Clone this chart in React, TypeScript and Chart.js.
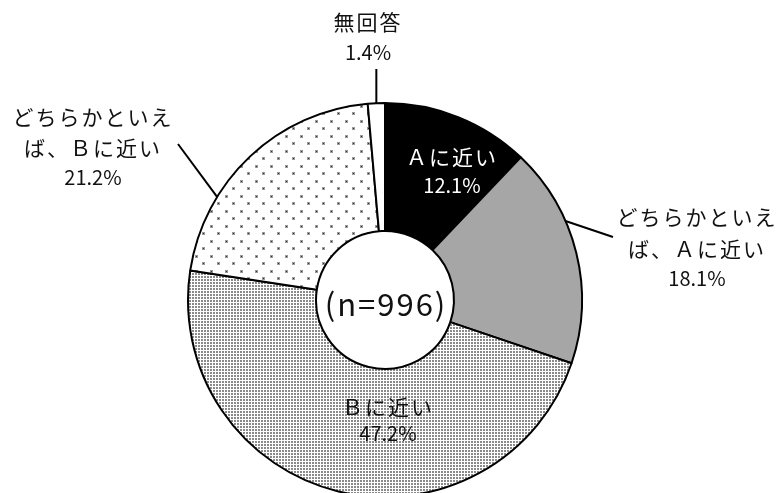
import React, { useEffect, useRef } from "react";
import { Chart, registerables } from "chart.js";

Chart.register(...registerables);

const categories = ["Ａに近い", "どちらかといえば、Ａに近い", "Ｂに近い", "どちらかといえば、Ｂに近い", "無回答"];
const values = [12.1, 18.1, 47.2, 21.2, 1.4];
const labelLines = [["Ａに近い"], ["どちらかといえ", "ば、Ａに近い"], ["Ｂに近い"], ["どちらかといえ", "ば、Ｂに近い"], ["無回答"]];
const centerText = "(n=996)";

const FONT = '"Noto Sans CJK JP", "Noto Sans", sans-serif';

function makePattern(kind: string): CanvasPattern | string {
  const c = document.createElement("canvas");
  const ctx = c.getContext("2d")!;
  if (kind === "dense") {
    c.width = 3; c.height = 3;
    ctx.fillStyle = "#ffffff";
    ctx.fillRect(0, 0, 3, 3);
    ctx.fillStyle = "#8a8a8a";
    ctx.fillRect(0, 0, 2, 2);
  } else {
    c.width = 15; c.height = 15;
    ctx.fillStyle = "#ffffff";
    ctx.fillRect(0, 0, 15, 15);
    ctx.fillStyle = "#9a9a9a";
    ctx.fillRect(0, 0, 3, 3);
    ctx.fillRect(7, 7, 3, 3);
    ctx.fillStyle = "#333333";
    ctx.fillRect(1, 1, 1, 1);
    ctx.fillRect(8, 8, 1, 1);
  }
  const p = ctx.createPattern(c, "repeat");
  return p || "#ccc";
}

// label layout (offsets from chart centre)
type LabelStyle = {
  inner: boolean;
  color: string;
  x: number;
  ys: number[];
  line?: { frac: number; ex: number; ey: number; vertical?: boolean };
};
const labelStyles: LabelStyle[] = [
  { inner: true, color: "#ffffff", x: 67, ys: [-143, -115] },
  { inner: false, color: "#111", x: 312, ys: [-83, -51, -22], line: { frac: 0.35, ex: 228, ey: -63 } },
  { inner: true, color: "#111", x: 3, ys: [107, 133] },
  { inner: false, color: "#111", x: -292, ys: [-183, -152, -123], line: { frac: 0.3, ex: -207, ey: -156 } },
  { inner: false, color: "#111", x: -17, ys: [-278, -248], line: { frac: 0.5, ex: 0, ey: -231, vertical: true } },
];

const labelPlugin = {
  id: "customLabels",
  afterDraw(chart: any) {
    const ctx = chart.ctx as CanvasRenderingContext2D;
    const meta = chart.getDatasetMeta(0);
    const first = meta.data[0];
    const cx = first.x, cy = first.y;
    ctx.save();
    ctx.textAlign = "center";
    ctx.textBaseline = "middle";
    meta.data.forEach((arc: any, i: number) => {
      const st = labelStyles[i];
      const lines = [...labelLines[i], values[i].toFixed(1) + "%"];
      if (st.line) {
        const a = arc.startAngle + (arc.endAngle - arc.startAngle) * st.line.frac;
        const ax = cx + Math.cos(a) * arc.outerRadius;
        const ay = cy + Math.sin(a) * arc.outerRadius;
        const ex = st.line.vertical ? ax : cx + st.line.ex;
        const ey = cy + st.line.ey;
        ctx.strokeStyle = "#000";
        ctx.lineWidth = 2;
        ctx.beginPath();
        ctx.moveTo(ax, ay);
        ctx.lineTo(ex, ey);
        ctx.stroke();
      }
      ctx.fillStyle = st.color;
      lines.forEach((t, j) => {
        const isPct = j === lines.length - 1;
        ctx.font = (isPct ? "20px " : "21px ") + FONT;
        (ctx as any).letterSpacing = isPct ? "0px" : "2px";
        ctx.fillText(t, cx + st.x, cy + st.ys[j]);
      });
    });
    (ctx as any).letterSpacing = "2px";
    ctx.fillStyle = "#111";
    ctx.font = "31px " + FONT;
    ctx.fillText(centerText, cx + 1, cy + 4);
    ctx.restore();
  },
};

export default function App() {
  const ref = useRef<HTMLCanvasElement>(null);
  useEffect(() => {
    const canvas = ref.current!;
    const colors = ["#000000", "#a6a6a6", makePattern("dense"), makePattern("sparse"), "#ffffff"];
    const chart = new Chart(canvas, {
      type: "doughnut",
      data: {
        labels: categories,
        datasets: [
          {
            data: values,
            backgroundColor: colors as any,
            borderColor: "#000000",
            borderWidth: 2,
            hoverOffset: 0,
            offset: 0,
          },
        ],
      },
      options: {
        responsive: false,
        animation: false,
        devicePixelRatio: 1,
        cutout: "35%",
        rotation: 0,
        layout: { padding: { top: 102, left: 186, right: 198, bottom: 2 } },
        plugins: {
          legend: { display: false },
          tooltip: { enabled: false },
        },
        events: [],
      },
      plugins: [labelPlugin],
    });
    return () => chart.destroy();
  }, []);
  return (
    <div style={{ position: "absolute", left: 0, top: 0, width: 782, height: 493, overflow: "hidden", background: "#fff" }}>
      <canvas ref={ref} width={782} height={500} style={{ display: "block" }} />
    </div>
  );
}
